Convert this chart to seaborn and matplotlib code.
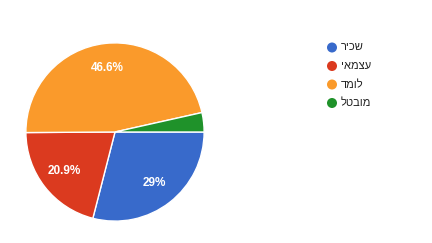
import matplotlib
matplotlib.use("Agg")
import numpy as np
import matplotlib.pyplot as plt
import seaborn as sns

categories = ["שכיר", "עצמאי", "לומד", "מובטל"]
values = [29.0, 20.9, 46.6, 3.5]
pct_labels = ["29%", "20.9%", "46.6%", ""]
colors = ["#386acb", "#db3a1f", "#fa9a2b", "#1f922a"]

sns.set_style("white")
plt.rcParams['font.family'] = ['Liberation Sans', 'DejaVu Sans']

W, H = 432, 243
fig = plt.figure(figsize=(W / 100, H / 100), dpi=100)
fig.patch.set_facecolor("white")

ax = fig.add_axes([25 / W, 21 / H, 180 / W, 180 / H])
palette = sns.color_palette(colors)
wedges, _ = ax.pie(values, colors=palette, startangle=0, counterclock=False,
                   wedgeprops=dict(edgecolor="white", linewidth=1.0))
for w, lab in zip(wedges, pct_labels):
    if not lab:
        continue
    ang = np.deg2rad((w.theta1 + w.theta2) / 2)
    r = 0.72
    ax.text(r * np.cos(ang), r * np.sin(ang), lab, ha="center", va="center",
            color="white", fontsize=8.5, fontweight="bold")
ax.set_xlim(-1.01, 1.01)
ax.set_ylim(-1.01, 1.01)
ax.axis("off")

# legend (Hebrew shown right-to-left by reversing the glyph order)
lax = fig.add_axes([0, 0, 1, 1])
lax.set_xlim(0, W)
lax.set_ylim(H, 0)
lax.axis("off")
ys = [47.5, 66, 84.5, 103]
for y, name, c in zip(ys, categories, colors):
    lax.scatter([332], [y], s=52, color=c, edgecolors="none")
    lax.text(341, y, name[::-1], ha="left", va="center", fontsize=8, color="#222222")

fig.savefig("out.png", dpi=100, facecolor="white")
